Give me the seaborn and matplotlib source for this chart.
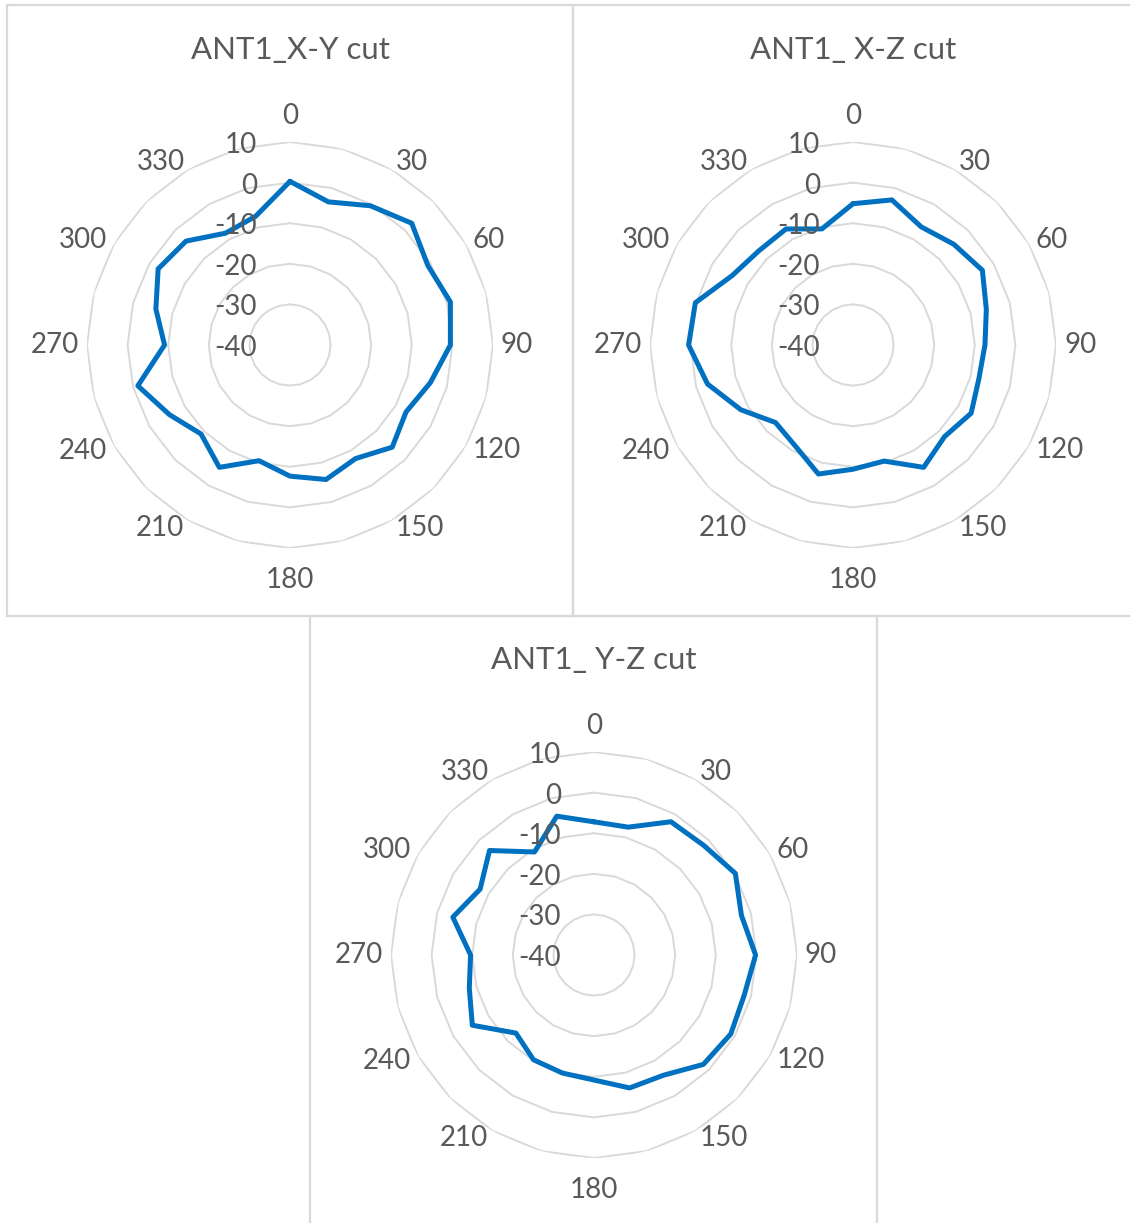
import numpy as np
import pandas as pd
import matplotlib
matplotlib.use('Agg')
import matplotlib.pyplot as plt
import matplotlib.transforms as mtransforms
import seaborn as sns

# radiation pattern cuts, dB, every 15 degrees
angles = list(range(0, 360, 15))
xy_cut = [0.3, -3.5, -0.4, 2.4, -0.8, 0.9, -0.5, -4.2, -7.0, -4.4, -7.7, -5.7,
          -7.7, -10.5, -5.2, -9.0, -5.7, -1.2, -9.1, -5.8, -2.5, -3.8, -8.2, -7.2]
xz_cut = [-5.2, -3.0, -6.4, -4.9, -3.2, -6.0, -7.5, -7.9, -6.4, -8.1, -5.2, -10.4,
          -9.4, -7.1, -11.4, -13.0, -8.1, -2.9, 0.5, 0.2, -5.7, -7.2, -7.0, -10.4]
yz_cut = [-7.2, -7.4, -2.1, -1.8, 0.2, -2.4, -0.2, -1.7, -1.1, -1.9, -5.8, -6.1,
          -9.2, -9.9, -10.2, -12.8, -5.4, -8.2, -9.6, -4.0, -7.6, -3.6, -10.7, -4.6]
titles = ['ANT1_X-Y cut', 'ANT1_ X-Z cut', 'ANT1_ Y-Z cut']
r_ticks = [-40, -30, -20, -10, 0, 10]
label_angles = list(range(0, 360, 30))

sns.set_theme(style='white')
plt.rcParams['font.family'] = ['Lato', 'DejaVu Sans']

W, H = 1130, 1223
fig = plt.figure(figsize=(W / 100, H / 100), dpi=100)

text_col = '#595959'
grid_col = '#D9D9D9'
line_col = '#0070C0'

# panel frames (pixels: x0, y0, x1, y1)
frames = [(7, 5, 573, 616), (573, 5, 1135, 616), (310, 616, 877, 1228)]
for x0, y0, x1, y1 in frames:
    fig.add_artist(plt.Rectangle((x0 / W, 1 - y1 / H), (x1 - x0) / W, (y1 - y0) / H,
                                 transform=fig.transFigure, fill=False,
                                 ec=grid_col, lw=1.6))

centers = [(290, 345), (853, 345), (594, 955)]
title_y = [50, 50, 660]
radius = 203

for (cx, cy), ty, title, vals in zip(centers, title_y, titles, [xy_cut, xz_cut, yz_cut]):
    ax = fig.add_axes([(cx - radius) / W, 1 - (cy + radius) / H, 2 * radius / W, 2 * radius / H],
                      projection='polar')
    ax.set_theta_zero_location('N')
    ax.set_theta_direction(-1)
    ax.set_ylim(-40, 10)
    ax.grid(False)
    ax.spines['polar'].set_visible(False)
    ax.set_xticks([])
    ax.set_yticks([])
    ax.patch.set_alpha(0)

    theta = np.deg2rad(angles + [angles[0]])
    # polygon grid rings
    for v in r_ticks[1:]:
        ax.plot(theta, [v] * len(theta), color=grid_col, lw=1.4, zorder=1)

    df = pd.DataFrame({'theta': theta, 'gain': vals + [vals[0]]})
    sns.lineplot(data=df, x='theta', y='gain', sort=False, estimator=None, ax=ax,
                 color=line_col, lw=3.6, zorder=3)
    ax.lines[-1].set_solid_joinstyle('round')
    ax.set_xlabel('')
    ax.set_ylabel('')

    # radial value labels
    off = mtransforms.offset_copy(ax.transData, fig=fig, x=-33, y=-3, units='dots')
    for v in r_ticks:
        ax.text(0, v, str(v), transform=off, ha='right', va='center',
                fontsize=20, color=text_col, zorder=4)

    # category labels, Excel style: box edge placed just outside the outer ring
    for a in label_angles:
        s, c = np.sin(np.deg2rad(a)), np.cos(np.deg2rad(a))
        if a == 0:
            ha, dx, dy = 'center', 0, 26
        elif a == 180:
            ha, dx, dy = 'center', 0, -32
        else:
            ha, dx, dy = ('left' if s > 0 else 'right'), 8 * s, 8 * c
        tr = mtransforms.offset_copy(ax.transData, fig=fig, x=dx, y=dy, units='dots')
        ax.text(np.deg2rad(a), 10, str(a), transform=tr, ha=ha, va='center',
                fontsize=20, color=text_col, clip_on=False)

    fig.text(cx / W, 1 - ty / H, title, ha='center', va='center',
             fontsize=22.5, color=text_col)

fig.savefig('out.png', dpi=100, facecolor='white')
